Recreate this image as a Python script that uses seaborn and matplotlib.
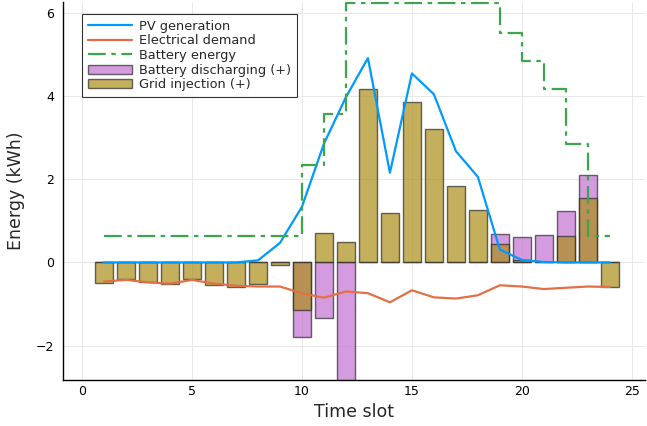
import numpy as np
import pandas as pd
import matplotlib
matplotlib.use("Agg")
import matplotlib.pyplot as plt
import seaborn as sns

# time slots and series (kWh)
slots = list(range(1, 25))
pv_generation = [0, 0, 0, 0, 0, 0, 0, 0.05, 0.47, 1.34, 2.86, 3.98,
                 4.92, 2.16, 4.55, 4.05, 2.68, 2.06, 0.31, 0.06, 0.01, 0, 0, 0]
demand = [-0.46, -0.42, -0.48, -0.51, -0.42, -0.51, -0.56, -0.58, -0.58, -0.74, -0.85, -0.70,
          -0.74, -0.96, -0.67, -0.84, -0.87, -0.79, -0.55, -0.58, -0.64, -0.61, -0.58, -0.59]
battery_energy = [0.63, 0.63, 0.63, 0.63, 0.63, 0.63, 0.63, 0.63, 0.63, 2.34, 3.58, 6.25,
                  6.25, 6.25, 6.25, 6.25, 6.25, 6.25, 5.53, 4.86, 4.17, 2.86, 0.63, 0.63]
battery_discharging = [0, 0, 0, 0, 0, 0, 0, 0, 0, -1.80, -1.33, -2.95,
                       0, 0, 0, 0, 0, 0, 0.69, 0.61, 0.65, 1.24, 2.10, 0]
grid_injection = [-0.49, -0.40, -0.48, -0.52, -0.40, -0.54, -0.58, -0.52, -0.07, -1.14, 0.72, 0.49,
                  4.18, 1.20, 3.86, 3.22, 1.84, 1.27, 0.44, 0.06, 0.01, 0.64, 1.54, -0.59]

df = pd.DataFrame({"slot": slots, "pv": pv_generation, "demand": demand,
                   "energy": battery_energy, "dis": battery_discharging,
                   "grid": grid_injection})

sns.set_style("white")
plt.rcParams["font.family"] = ["DejaVu Sans"]

fig = plt.figure(figsize=(6.47, 4.26), dpi=100)
ax = fig.add_axes([62.7 / 647, 46 / 426, (645 - 62.7) / 647, (424 - 46) / 426])

sns.lineplot(data=df, x="slot", y="pv", ax=ax, color="#009AFA", lw=1.6, label="PV generation")
sns.lineplot(data=df, x="slot", y="demand", ax=ax, color="#E36F47", lw=1.6, label="Electrical demand")
sns.lineplot(data=df, x="slot", y="energy", ax=ax, color="#3EA44E", lw=1.6,
             drawstyle="steps-post", dashes=False, label="Battery energy")
ax.get_lines()[-1].set_dashes([8, 2.5, 2, 2.5])

sns.barplot(data=df, x="slot", y="dis", ax=ax, native_scale=True, width=0.8, errorbar=None,
            color="#C371D2", saturation=1, alpha=0.7, edgecolor="#2a2a2a", linewidth=1,
            label="Battery discharging (+)")
sns.barplot(data=df, x="slot", y="grid", ax=ax, native_scale=True, width=0.8, errorbar=None,
            color="#AC8E18", saturation=1, alpha=0.7, edgecolor="#2a2a2a", linewidth=1,
            label="Grid injection (+)")

ax.set_xlim(-0.88, 25.6)
ax.set_ylim(-2.83, 6.27)
ax.set_xticks([0, 5, 10, 15, 20, 25])
ax.set_yticks([-2, 0, 2, 4, 6])
ax.grid(True, color="#e8e8e8", lw=0.7)
ax.set_axisbelow(True)
ax.tick_params(direction="in", length=4, labelsize=9, colors="black")
ax.tick_params(axis="y", pad=6)
for s in ["top", "right"]:
    ax.spines[s].set_visible(False)
for s in ["left", "bottom"]:
    ax.spines[s].set_color("black")
    ax.spines[s].set_linewidth(1)

ax.set_xlabel("Time slot", fontsize=12.5)
ax.set_ylabel("Energy (kWh)", fontsize=12.5, labelpad=8)

leg = ax.legend(loc="upper left", bbox_to_anchor=(0.034, 0.968), fontsize=9.3,
                frameon=True, fancybox=False, edgecolor="black", borderpad=0.45,
                labelspacing=0.12, handlelength=3.4, handletextpad=0.5, borderaxespad=0)
leg.get_frame().set_linewidth(0.8)

fig.savefig("out.png", dpi=100)
